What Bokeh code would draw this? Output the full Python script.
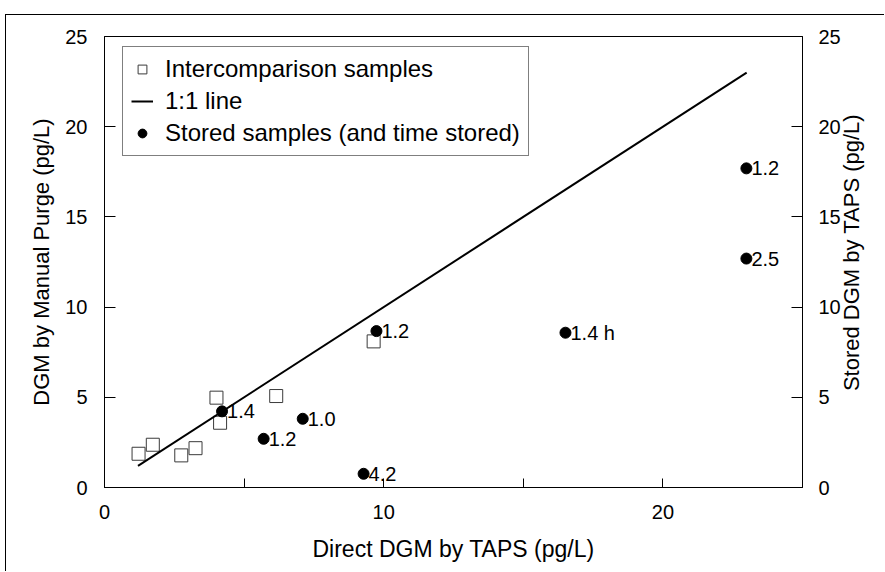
import math
from bokeh.plotting import figure
from bokeh.models import (Range1d, LinearAxis, FixedTicker, Legend, LegendItem,
                          ColumnDataSource, Label)
from bokeh.core.properties import value
from bokeh.embed import file_html
from bokeh.resources import INLINE

# ---- data ----
inter_x = [1.22, 1.73, 2.75, 3.26, 4.01, 4.14, 6.15, 9.64]
inter_y = [1.87, 2.37, 1.78, 2.18, 4.98, 3.59, 5.07, 8.10]

stored_x = [4.21, 5.70, 7.10, 9.28, 9.74, 16.51, 22.99, 22.99]
stored_y = [4.22, 2.70, 3.81, 0.76, 8.67, 8.58, 17.69, 12.69]
stored_labels = ["1.4", "1.2", "1.0", "4.2", "1.2", "1.4 h", "1.2", "2.5"]

line_x = [1.2, 23.0]
line_y = [1.2, 23.0]

x_major_ticks = [0, 10, 20]
x_minor_ticks = [5, 15]
y_ticks = [0, 5, 10, 15, 20, 25]

x_title = "Direct DGM by TAPS (pg/L)"
y_title = "DGM by Manual Purge (pg/L)"
y2_title = "Stored DGM by TAPS (pg/L)"
legend_labels = ["Intercomparison samples", "1:1 line", "Stored samples (and time stored)"]

FONT = "Liberation Sans"

# page border sits at x=5, y=14; canvas starts just inside it
p = figure(width=879, height=557, x_range=Range1d(0, 25), y_range=Range1d(0, 25),
           output_backend="svg", toolbar_location=None,
           min_border_left=98, min_border_right=83, min_border_top=21, min_border_bottom=85)
p.margin = (14, 0, 0, 5)
p.styles = {"border-top": "1px solid black", "border-left": "1px solid black"}
p.grid.visible = False
p.outline_line_color = "black"
p.outline_line_width = 1
p.background_fill_color = "white"
p.border_fill_color = "white"

p.extra_y_ranges = {"r": Range1d(0, 25)}
yr = LinearAxis(y_range_name="r")
p.add_layout(yr, "right")

def style_axis(ax, title, tick_in, std, title_std, title_size):
    ax.axis_label = title
    ax.axis_label_text_font = FONT
    ax.axis_label_text_font_size = title_size
    ax.axis_label_text_font_style = "normal"
    ax.axis_label_text_color = "black"
    ax.axis_label_standoff = title_std
    ax.major_label_text_font = FONT
    ax.major_label_text_font_size = "20px"
    ax.major_label_text_color = "black"
    ax.major_label_standoff = std
    ax.axis_line_color = "black"
    ax.major_tick_line_color = "black"
    ax.major_tick_in = tick_in
    ax.major_tick_out = 0
    ax.minor_tick_line_color = None

xa = p.xaxis[0]
style_axis(xa, x_title, 9, 17, 14, "23px")
xa.ticker = FixedTicker(ticks=x_major_ticks, minor_ticks=x_minor_ticks)
xa.minor_tick_line_color = "black"
xa.minor_tick_in = 9
xa.minor_tick_out = 0

ya = p.yaxis[0]
style_axis(ya, y_title, 11, 17, 8, "22px")
ya.ticker = FixedTicker(ticks=y_ticks)

style_axis(yr, None, 11, 16, 0, "22px")
yr.axis_label = None
yr.ticker = FixedTicker(ticks=y_ticks)

# right-hand title, reading bottom to top like the reference
right_title = Label(x=844, y=236, x_units="canvas", y_units="canvas", text=y2_title,
                    angle=math.pi / 2, text_align="center", text_baseline="middle",
                    text_font=FONT, text_font_size="22px", text_color="black")
p.add_layout(right_title, "right")

inter_src = ColumnDataSource(dict(x=inter_x, y=inter_y))
stored_src = ColumnDataSource(dict(x=stored_x, y=stored_y, t=stored_labels))
line_src = ColumnDataSource(dict(x=line_x, y=line_y))

r_sq = p.scatter("x", "y", source=inter_src, marker="square", size=13,
                 fill_color=None, line_color="#3a3a3a", line_width=1)
r_ln = p.line("x", "y", source=line_src, line_color="black", line_width=2)
r_ci = p.scatter("x", "y", source=stored_src, marker="circle", size=11,
                 fill_color="black", line_color="black")
p.text("x", "y", text="t", source=stored_src, x_offset=5, text_baseline="middle",
       text_align="left", text_font=value(FONT), text_font_size="20px", text_color="black")

legend = Legend(items=[LegendItem(label=legend_labels[0], renderers=[r_sq]),
                       LegendItem(label=legend_labels[1], renderers=[r_ln]),
                       LegendItem(label=legend_labels[2], renderers=[r_ci])],
                location=(18, 331), margin=0, padding=8, spacing=4,
                glyph_width=22, glyph_height=28, label_height=28, label_standoff=12,
                label_text_font=FONT, label_text_font_size="24px", label_text_color="black",
                border_line_color="black", border_line_width=1, background_fill_color="white",
                background_fill_alpha=1.0)
p.add_layout(legend, "center")

open("out.html", "w").write(file_html(p, INLINE))
